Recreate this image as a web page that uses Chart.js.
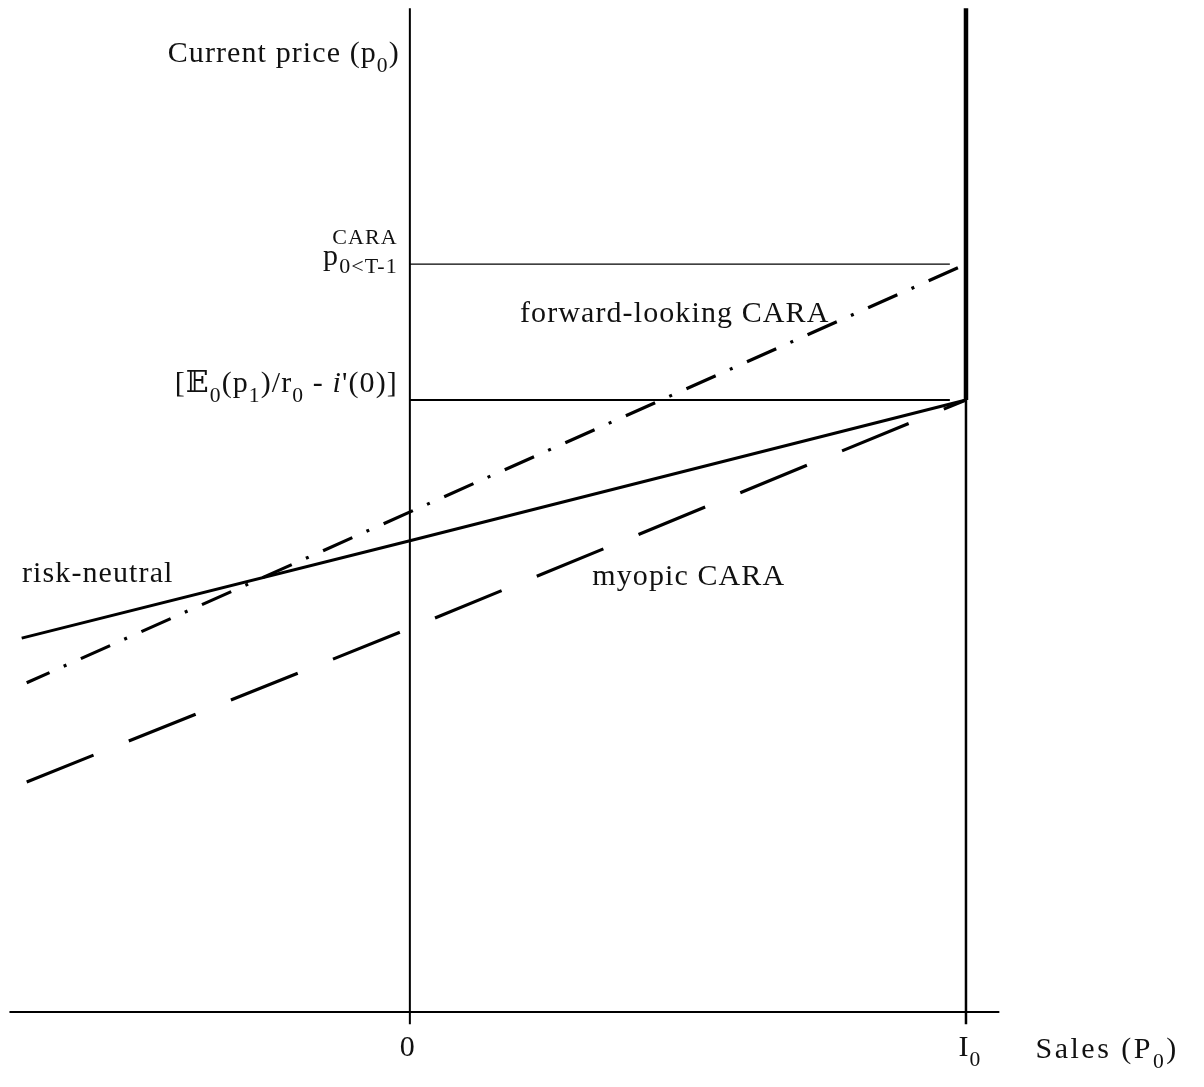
<!DOCTYPE html>
<html>
<head>
<meta charset="utf-8">
<script src="https://cdn.jsdelivr.net/npm/chart.js@4.4.1/dist/chart.umd.min.js"></script>
<style>
  html, body { margin: 0; padding: 0; background: #ffffff; }
  #wrap { width: 1204px; height: 1087px; position: relative; }
</style>
</head>
<body>
<div id="wrap"><canvas id="c"></canvas></div>
<script>
// Sales quantity on x (0 and inventory I0 = 1), current price on y.
const xRange = [-0.737, 1.428];
const yRange = [-0.1225, 1.6536];

const salesLevels = { zero: 0, inventory: 1 };
const priceRiskNeutralTop = 1.0;   // [E0(p1)/r0 - i'(0)]
const priceCaraTop = 1.222;        // p^CARA_{0<T-1}

// Supply schedules (sales, price)
const riskNeutralX = [-0.698, 0, 1];
const riskNeutralY = [0.611, 0.770, 1.0];
const forwardCaraX = [-0.689, 1];
const forwardCaraY = [0.538, 1.222];
const myopicCaraX = [-0.689, 0, 1];
const myopicCaraY = [0.376, 0.627, 1.0];

// Frame: axes and reference lines
const axisTop = 1.640;
const horizAxisX = [-0.72, 1.06];
const guideEndX = 0.971;

const pts = (xs, ys) => xs.map((x, i) => ({ x, y: ys[i] }));

const serif = '"Liberation Serif", "DejaVu Serif", serif';
const SPACING = 1.1;

function setFont(ctx, size, italic, spacing) {
  ctx.font = (italic ? 'italic ' : '') + size + 'px ' + serif;
  ctx.letterSpacing = (spacing === undefined ? SPACING : spacing) + 'px';
}

// draw a run of text pieces; each piece may be normal, sub or sup
function richWidth(ctx, segs, size, spacing) {
  let w = 0;
  for (const s of segs) {
    setFont(ctx, s.sub || s.sup ? size * 0.72 : size, s.it, spacing);
    w += ctx.measureText(s.t).width;
  }
  return w;
}
function drawRich(ctx, x, y, segs, size, align, spacing) {
  const w = richWidth(ctx, segs, size, spacing);
  let cx = align === 'right' ? x - w : align === 'center' ? x - w / 2 : x;
  ctx.textBaseline = 'alphabetic';
  ctx.textAlign = 'left';
  for (const s of segs) {
    setFont(ctx, s.sub || s.sup ? size * 0.72 : size, s.it, spacing);
    const dy = s.sub ? size * 0.32 : s.sup ? -size * 0.45 : 0;
    ctx.fillText(s.t, cx, y + dy);
    cx += ctx.measureText(s.t).width;
  }
}

const labelsPlugin = {
  id: 'diagramLabels',
  afterDatasetsDraw(chart) {
    const { ctx, scales } = chart;
    const X = v => scales.x.getPixelForValue(v);
    const Y = v => scales.y.getPixelForValue(v);
    ctx.save();
    ctx.fillStyle = '#111';
    const fs = 30;
    const ax = X(salesLevels.zero);

    // vertical axis title
    drawRich(ctx, ax - 10, Y(axisTop) + 54, [{ t: 'Current price (p' }, { t: '0', sub: true }, { t: ')' }], fs, 'right');

    // p^CARA_{0<T-1}
    setFont(ctx, 22);
    ctx.textAlign = 'right';
    ctx.fillText('CARA', ax - 12, Y(priceCaraTop) - 20);
    const subW = ctx.measureText('0<T-1').width;
    ctx.fillText('0<T-1', ax - 12, Y(priceCaraTop) + 9);
    setFont(ctx, fs);
    ctx.fillText('p', ax - 12 - subW, Y(priceCaraTop) + 1);

    // [E0(p1)/r0 - i'(0)]
    drawRich(ctx, ax - 12, Y(priceRiskNeutralTop) - 8, [
      { t: '[𝔼' }, { t: '0', sub: true }, { t: '(p' }, { t: '1', sub: true },
      { t: ')/r' }, { t: '0', sub: true }, { t: ' - ' }, { t: 'i', it: true }, { t: '\'(0)]' }
    ], fs, 'right');

    // schedule names
    drawRich(ctx, X(0.198), Y(1.128), [{ t: 'forward-looking CARA' }], fs, 'left');
    drawRich(ctx, 22, Y(0.703), [{ t: 'risk-neutral' }], fs, 'left');
    drawRich(ctx, X(0.328), Y(0.697), [{ t: 'myopic CARA' }], fs, 'left');

    // horizontal axis labels
    const base = Y(0) + 44;
    drawRich(ctx, X(salesLevels.zero) - 2, base, [{ t: '0' }], fs, 'center');
    drawRich(ctx, X(salesLevels.inventory) + 4, base, [{ t: 'I' }, { t: '0', sub: true }], fs, 'center');
    drawRich(ctx, X(1.125), base + 2, [{ t: 'Sales (P' }, { t: '0', sub: true }, { t: ')' }], fs, 'left', 2.5);
    ctx.restore();
  }
};

const line = (data, extra) => Object.assign({
  data, borderColor: '#000', backgroundColor: '#000', borderWidth: 2,
  pointRadius: 0, tension: 0, fill: false
}, extra);

new Chart(document.getElementById('c'), {
  type: 'line',
  data: {
    datasets: [
      line(pts([salesLevels.zero, salesLevels.zero], [axisTop, -0.02]), { borderWidth: 2 }),
      line(pts(horizAxisX, [0, 0]), { borderWidth: 2 }),
      line(pts([salesLevels.inventory, salesLevels.inventory], [axisTop, priceRiskNeutralTop]), { borderWidth: 4.5 }),
      line(pts([salesLevels.inventory, salesLevels.inventory], [priceRiskNeutralTop, -0.02]), { borderWidth: 2.5 }),
      line(pts([salesLevels.zero, guideEndX], [priceCaraTop, priceCaraTop]), { borderWidth: 1.4 }),
      line(pts([salesLevels.zero, guideEndX], [priceRiskNeutralTop, priceRiskNeutralTop]), { borderWidth: 2 }),
      line(pts(riskNeutralX, riskNeutralY), { label: 'risk-neutral', borderWidth: 3 }),
      line(pts(forwardCaraX, forwardCaraY), { label: 'forward-looking CARA', borderWidth: 3.2, borderDash: [32, 15.5, 3, 15.8], borderDashOffset: 7 }),
      line(pts(myopicCaraX, myopicCaraY), { label: 'myopic CARA', borderWidth: 3.2, borderDash: [72, 38] })
    ]
  },
  options: {
    responsive: true,
    maintainAspectRatio: false,
    animation: false,
    layout: { padding: 0 },
    plugins: { legend: { display: false }, tooltip: { enabled: false } },
    scales: {
      x: { type: 'linear', min: xRange[0], max: xRange[1], display: false },
      y: { type: 'linear', min: yRange[0], max: yRange[1], display: false }
    }
  },
  plugins: [labelsPlugin]
});
</script>
</body>
</html>
